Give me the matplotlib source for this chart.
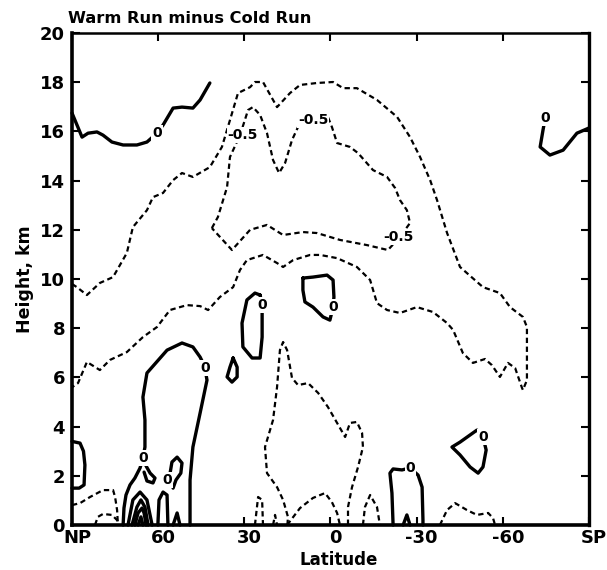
import matplotlib
matplotlib.use("Agg")
import matplotlib.pyplot as plt
from matplotlib.transforms import ScaledTranslation

plt.rcParams['font.family'] = ['DejaVu Sans']
plt.rcParams['font.weight'] = 'bold'

title_text = "Warm Run minus Cold Run"
x_label = "Latitude"
y_label = "Height, km"
lat_ticks = [90, 60, 30, 0, -30, -60, -90]
lat_tick_labels = ["NP", "60", "30", "0", "-30", "-60", "SP"]
km_ticks = [0, 2, 4, 6, 8, 10, 12, 14, 16, 18, 20]

# ---- zero contours (solid) : latitude (deg) / height (km) ----
zero_np_top_lat = [90, 86.5, 84.4, 81.3, 79.2, 76.1, 72.2, 67.4, 63.9, 60.4, 58.3, 54.8, 51.7, 47.9, 45.4, 42.0]
zero_np_top_km = [16.75, 15.77, 15.93, 15.98, 15.85, 15.57, 15.45, 15.45, 15.57, 15.93, 16.26, 16.95, 16.99, 16.95, 17.28, 17.97]

zero_sp_top_lat = [-74.7, -74.0, -73.0, -76.4, -81.0, -85.8, -90]
zero_sp_top_km = [16.5, 16.06, 15.37, 15.04, 15.24, 15.93, 16.14]

zero_loop30_lat = [24.5, 26.3, 29.1, 30.8, 30.5, 27.3, 24.5, 23.8, 23.8, 23.8, 24.5]
zero_loop30_km = [9.35, 9.43, 9.15, 8.21, 7.24, 6.79, 6.79, 7.64, 8.62, 8.94, 9.35]

zero_loop_eq_lat = [9.6, 6.1, 1.2, -0.9, -1.2, -0.9, 0.2, 2.6, 6.1, 8.9, 9.6, 9.6]
zero_loop_eq_km = [10.04, 10.08, 10.16, 9.96, 9.27, 8.86, 8.33, 8.46, 8.86, 9.07, 9.55, 10.04]

zero_drop_lat = [33.9, 35.0, 36.0, 34.3, 32.5, 32.5, 33.9]
zero_drop_km = [6.79, 6.42, 6.02, 5.81, 6.02, 6.42, 6.79]

zero_arch_lat = [48.9, 48.9, 47.9, 45.4, 43.0, 43.7, 44.4, 45.4, 47.9, 51.7, 56.9, 63.9, 65.3,
                 64.6, 64.6, 65.3, 66.3, 68.1, 69.8, 71.2, 71.9, 72.2]
zero_arch_km = [0.0, 1.83, 3.17, 4.55, 5.89, 6.38, 6.59, 6.83, 7.24, 7.40, 7.11, 6.18, 5.20,
                4.27, 3.17, 2.72, 2.32, 1.91, 1.63, 1.22, 0.69, 0.0]

zero_hook_lat = [64.6, 64.2, 62.8, 61.1, 61.8, 63.9, 64.9]
zero_hook_km = [2.6, 2.40, 2.11, 1.91, 1.71, 1.79, 2.15]

zero_np_sfc_lat = [90, 87.2, 86.0, 85.5, 85.8, 87.5, 90]
zero_np_sfc_km = [3.4, 3.33, 3.0, 2.44, 1.63, 1.5, 1.5]

zero_curl_lat = [56.9, 55.9, 55.2, 53.4, 51.7, 52.1, 53.8, 54.8]
zero_curl_km = [1.83, 2.07, 2.56, 2.76, 2.52, 2.11, 1.83, 1.50]

zero_s30_lat = [-21.8, -21.4, -20.7, -21.8, -24.9, -27.7, -30.5, -31.9, -32.2, -32.2]
zero_s30_km = [0.0, 1.30, 2.11, 2.28, 2.24, 2.32, 2.03, 1.54, 0.2, 0.0]

zero_s50_lat = [-53.1, -51.0, -45.1, -42.3, -45.1, -48.6, -51.4, -53.1, -54.2, -53.1]
zero_s50_km = [3.58, 3.86, 3.37, 3.17, 2.85, 2.36, 2.11, 2.36, 3.05, 3.58]

# surface cells between 50N and 72N (solid)
sfc_cell1_lat = [70.5, 68.8, 66.3, 63.9, 62.1]
sfc_cell1_km = [0.0, 1.02, 1.34, 1.02, 0.0]
sfc_cell2_lat = [69.1, 67.4, 66.0, 64.6, 63.5]
sfc_cell2_km = [0.0, 0.73, 1.02, 0.73, 0.0]
sfc_cell3_lat = [68.1, 67.0, 65.6, 64.9, 64.2]
sfc_cell3_km = [0.0, 0.49, 0.69, 0.49, 0.0]
sfc_cell4_lat = [67.0, 66.0, 65.3]
sfc_cell4_km = [0.0, 0.33, 0.0]
sfc_cell5_lat = [60.1, 59.7, 58.3, 56.9, 56.6]
sfc_cell5_km = [0.0, 1.02, 1.34, 1.22, 0.0]
sfc_cell6_lat = [54.8, 53.4, 52.4]
sfc_cell6_km = [0.0, 0.49, 0.0]
sfc_cell7_lat = [-25.3, -26.6, -27.7]
sfc_cell7_km = [0.0, 0.41, 0.0]

# ---- negative contours (dashed) ----
neg_outer_lat = [90, 88.3, 84.8, 80.3, 75.7, 70.9, 68.8, 63.9, 61.8, 58.3, 54.8, 51.7, 47.9, 42.0,
                 37.8, 35.0, 32.2, 28.0, 26.3, 23.5, 18.6, 14.1, 10.6, 4.7, -0.9, -4.4, -9.2,
                 -16.2, -23.2, -27.7, -31.2, -34.7, -37.1, -40.6, -45.1, -53.1, -59.0, -62.5,
                 -67.0, -68.4, -68.4, -67.0, -66.7, -64.3, -61.8, -59.0, -56.2, -53.8, -49.6,
                 -46.1, -42.7, -40.6, -35.7, -30.1, -24.2, -19.7, -16.2, -13.8, -9.2, -2.3, 3.6,
                 7.1, 13.0, 16.5, 18.6, 23.5, 29.1, 31.5, 33.9, 38.5, 42.6, 45.4, 50.0, 55.9,
                 60.4, 65.3, 70.9, 76.8, 80.3, 84.8, 87.9, 90]
neg_outer_km = [9.8, 9.67, 9.35, 9.84, 10.08, 11.06, 12.11, 12.80, 13.33, 13.50, 14.02, 14.31, 14.15,
                14.55, 15.37, 16.46, 17.56, 17.80, 18.01, 18.01, 16.99, 17.56, 17.89, 17.97, 18.01,
                17.76, 17.76, 17.28, 16.59, 15.77, 14.96, 14.02, 13.21, 11.87, 10.49, 9.67, 9.43,
                8.86, 8.46, 8.05, 5.89, 5.49, 5.57, 6.38, 6.59, 6.02, 6.50, 6.75, 6.59, 6.99,
                7.93, 8.21, 8.66, 8.86, 8.62, 8.74, 9.02, 9.96, 10.49, 10.85, 10.98, 10.98, 10.77,
                10.49, 10.65, 10.98, 10.77, 10.37, 9.67, 9.27, 8.74, 8.90, 8.94, 8.74, 8.05, 7.64,
                7.03, 6.71, 6.30, 6.63, 5.77, 5.6]

neg_half_lat = [41.3, 39.2, 36.0, 35.0, 31.5, 28.7, 27.0, 24.5, 22.1, 20.0, 17.9, 15.8, 13.4, 11.3,
                6.1, 0.9, -0.5, -2.3, -6.8, -9.6, -14.8, -19.7, -22.5, -24.2, -26.6, -27.7, -24.2,
                -20.0, -12.7, -3.3, 4.7, 9.6, 16.5, 22.1, 28.0, 34.3, 41.3]
neg_half_km = [12.07, 12.52, 13.74, 14.96, 15.85, 16.87, 16.99, 16.67, 15.93, 14.84, 14.31, 14.72,
               15.65, 16.18, 16.46, 16.59, 16.18, 15.53, 15.37, 15.12, 14.43, 14.15, 13.70, 13.21,
               12.80, 12.28, 11.71, 11.18, 11.38, 11.59, 11.87, 11.91, 11.79, 12.20, 12.0, 11.18,
               12.07]

neg_spike_lat = [15.0, 14.8, 16.5, 18.6, 22.1, 22.8, 20.0, 18.6, 17.6, 16.5, 15.1, 13.4, 11.3, 7.8,
                 4.3, 0.9, -2.3, -5.1, -6.8, -9.2, -11.0, -11.3, -9.6, -7.5, -6.1, -6.1]
neg_spike_km = [0.0, 0.33, 1.02, 1.54, 2.11, 3.17, 4.27, 5.61, 7.11, 7.44, 7.11, 5.98, 5.69, 5.77,
                5.37, 4.80, 4.15, 3.58, 4.15, 4.19, 3.74, 3.17, 2.36, 1.54, 0.73, 0.0]

neg_np_cell1_lat = [90, 87.2, 83.7, 79.2, 75.7, 75.0, 74.3, 74.0]
neg_np_cell1_km = [0.81, 0.89, 1.14, 1.42, 1.42, 1.14, 0.61, 0.0]
neg_np_cell2_lat = [82.0, 81.0, 79.2, 76.1, 74.3, 74.0]
neg_np_cell2_km = [0.0, 0.33, 0.45, 0.41, 0.2, 0.0]
neg_25n_lat = [26.3, 25.2, 23.8, 23.5]
neg_25n_km = [0.0, 1.14, 1.02, 0.0]
neg_19n_lat = [20.0, 19.3, 18.6]
neg_19n_km = [0.0, 0.41, 0.0]
neg_eq_cell_lat = [15.1, 10.6, 6.1, 1.9, -0.5, -2.3, -3.3]
neg_eq_cell_km = [0.0, 0.69, 1.10, 1.30, 0.93, 0.49, 0.0]
neg_14s_lat = [-11.3, -12.0, -13.8, -16.2, -17.2]
neg_14s_km = [0.0, 0.73, 1.22, 0.73, 0.0]
neg_45s_lat = [-38.1, -40.6, -43.4, -47.5, -51.0, -54.9, -56.6, -57.3]
neg_45s_km = [0.0, 0.61, 0.89, 0.61, 0.41, 0.49, 0.28, 0.0]

# contour labels
zero_label_lat = [60.4, -74.7, 23.8, -0.9, 43.7, 65.3, 56.9, -27.7, -53.1]
zero_label_km = [15.93, 16.54, 8.94, 8.86, 6.38, 2.72, 1.83, 2.32, 3.58]
half_label_lat = [30.5, 6.1, -23.8]
half_label_km = [15.85, 16.46, 11.71]

solid_lines = [
    (zero_np_top_lat, zero_np_top_km), (zero_sp_top_lat, zero_sp_top_km),
    (zero_loop30_lat, zero_loop30_km), (zero_loop_eq_lat, zero_loop_eq_km),
    (zero_drop_lat, zero_drop_km), (zero_arch_lat, zero_arch_km),
    (zero_hook_lat, zero_hook_km), (zero_np_sfc_lat, zero_np_sfc_km),
    (zero_curl_lat, zero_curl_km), (zero_s30_lat, zero_s30_km),
    (zero_s50_lat, zero_s50_km),
    (sfc_cell1_lat, sfc_cell1_km), (sfc_cell2_lat, sfc_cell2_km),
    (sfc_cell3_lat, sfc_cell3_km), (sfc_cell4_lat, sfc_cell4_km),
    (sfc_cell5_lat, sfc_cell5_km), (sfc_cell6_lat, sfc_cell6_km),
    (sfc_cell7_lat, sfc_cell7_km),
]
dashed_lines = [
    (neg_outer_lat, neg_outer_km), (neg_half_lat, neg_half_km),
    (neg_spike_lat, neg_spike_km), (neg_np_cell1_lat, neg_np_cell1_km),
    (neg_np_cell2_lat, neg_np_cell2_km), (neg_25n_lat, neg_25n_km),
    (neg_19n_lat, neg_19n_km), (neg_eq_cell_lat, neg_eq_cell_km),
    (neg_14s_lat, neg_14s_km), (neg_45s_lat, neg_45s_km),
]

fig = plt.figure(figsize=(6.07, 5.70), dpi=100)
ax = fig.add_axes([0.1186, 0.0789, 0.8517, 0.8631])

for lats, kms in solid_lines:
    ax.plot(lats, kms, color='black', lw=2.4, solid_capstyle='round',
            solid_joinstyle='round', clip_on=False)
for lats, kms in dashed_lines:
    ax.plot(lats, kms, color='black', lw=1.6, linestyle=(0, (2.4, 1.6)),
            dash_capstyle='butt', clip_on=False)

label_box = dict(facecolor='white', edgecolor='none', pad=0.5)
for la, km in zip(zero_label_lat, zero_label_km):
    ax.text(la, km, "0", ha='center', va='center', fontsize=10,
            fontweight='bold', bbox=label_box, zorder=5)
for la, km in zip(half_label_lat, half_label_km):
    ax.text(la, km, "-0.5", ha='center', va='center', fontsize=10,
            fontweight='bold', bbox=label_box, zorder=5)

ax.set_xlim(90, -90)
ax.set_ylim(0, 20)
ax.set_xticks(lat_ticks)
ax.set_xticklabels(lat_tick_labels)
ax.set_yticks(km_ticks)
ax.tick_params(direction='in', length=6, width=1.5, top=True, right=True,
               labelsize=13)
ax.tick_params(axis='x', pad=3)
ax.tick_params(axis='y', pad=5)
for lab in ax.get_xticklabels() + ax.get_yticklabels():
    lab.set_fontweight('bold')
shift = ScaledTranslation(5 / 100, 0, fig.dpi_scale_trans)
for lab in ax.get_xticklabels():
    lab.set_transform(lab.get_transform() + shift)

ax.spines['left'].set_linewidth(2.6)
ax.spines['bottom'].set_linewidth(2.6)
ax.spines['right'].set_linewidth(2.4)
ax.spines['top'].set_linewidth(1.8)

ax.set_xlabel(x_label, fontsize=12, fontweight='bold', labelpad=1)
ax.xaxis.set_label_coords(0.515, -0.052)
ax.set_ylabel(y_label, fontsize=12.5, fontweight='bold', labelpad=4)
fig.text(0.112, 0.968, title_text, fontsize=11.7, fontweight='bold',
         ha='left', va='center')

fig.savefig("out.png", dpi=100)
